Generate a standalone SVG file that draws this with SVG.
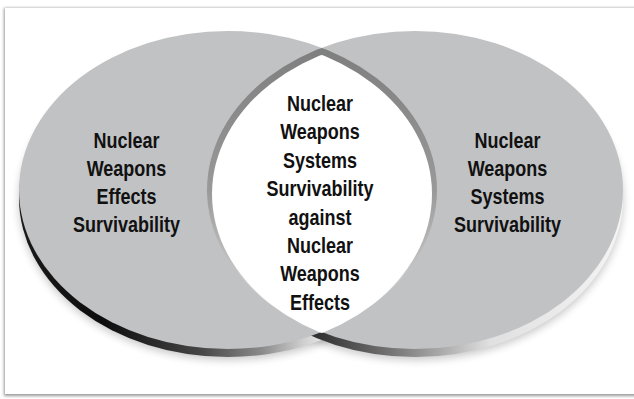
<svg xmlns="http://www.w3.org/2000/svg" width="634" height="399" viewBox="0 0 634 399">
  <defs>
    <style>
      .lbl { font-family: "Liberation Sans", Arial, sans-serif; font-weight: bold; font-size: 22.5px; fill: #111; text-anchor: middle; }
      .face { fill: #c1c2c4; }
    </style>
    <filter id="soft" x="-10%" y="-10%" width="120%" height="130%">
      <feGaussianBlur stdDeviation="4"/>
    </filter>
    <filter id="panelShadow" x="-5%" y="-5%" width="110%" height="110%">
      <feGaussianBlur stdDeviation="1.6"/>
    </filter>
    <linearGradient id="bevL" gradientUnits="userSpaceOnUse" x1="19" y1="0" x2="437" y2="0">
      <stop offset="0" stop-color="#1a1a1a"/>
      <stop offset="0.2" stop-color="#0d0d0d"/>
      <stop offset="0.43" stop-color="#444"/>
      <stop offset="0.58" stop-color="#8a8a8a"/>
      <stop offset="0.68" stop-color="#cfcfcf"/>
      <stop offset="0.73" stop-color="#e6e6e6"/>
      <stop offset="1" stop-color="#eee"/>
    </linearGradient>
    <linearGradient id="bevR" gradientUnits="userSpaceOnUse" x1="207" y1="0" x2="623" y2="0">
      <stop offset="0" stop-color="#222"/>
      <stop offset="0.27" stop-color="#333"/>
      <stop offset="0.45" stop-color="#777"/>
      <stop offset="0.6" stop-color="#bbb"/>
      <stop offset="0.68" stop-color="#e0e0e0"/>
      <stop offset="1" stop-color="#f4f4f4"/>
    </linearGradient>
    <linearGradient id="lensBand" gradientUnits="userSpaceOnUse" x1="0" y1="45" x2="0" y2="335">
      <stop offset="0" stop-color="#7e7e7e"/>
      <stop offset="0.5" stop-color="#999"/>
      <stop offset="0.85" stop-color="#d0d0d0"/>
      <stop offset="1" stop-color="#eee"/>
    </linearGradient>
    <clipPath id="clipL"><ellipse cx="228" cy="190" rx="209" ry="159"/></clipPath>
    <clipPath id="clipR"><ellipse cx="415" cy="190" rx="208" ry="159"/></clipPath>
    <clipPath id="clipL2"><ellipse cx="227" cy="194" rx="205" ry="157"/></clipPath>
    <clipPath id="clipR2"><ellipse cx="416" cy="194" rx="204" ry="157"/></clipPath>
  </defs>

  <!-- page and panel -->
  <rect x="0" y="0" width="634" height="399" fill="#fff"/>
  <rect x="4" y="8" width="640" height="388" fill="#9a9a9a" filter="url(#panelShadow)"/>
  <rect x="5" y="8" width="640" height="386" fill="#fff"/>

  <!-- shadows -->
  <ellipse cx="228" cy="201" rx="209" ry="159" fill="#000" opacity="0.22" filter="url(#soft)"/>
  <ellipse cx="415" cy="201" rx="208" ry="159" fill="#000" opacity="0.22" filter="url(#soft)"/>

  <g id="left-set">
    <ellipse cx="228" cy="198" rx="209" ry="159" fill="url(#bevL)"/>
  </g>
  <g id="right-set">
    <ellipse cx="415" cy="198" rx="208" ry="159" fill="url(#bevR)"/>
  </g>
  <g id="faces">
    <ellipse id="leftFace" class="face" cx="228" cy="190" rx="209" ry="159"/>
    <ellipse id="rightFace" class="face" cx="415" cy="190" rx="208" ry="159"/>
  </g>

  <g id="intersection">
    <g clip-path="url(#clipL)">
      <g clip-path="url(#clipR)">
        <rect x="200" y="30" width="245" height="320" fill="url(#lensBand)"/>
      </g>
    </g>
    <g clip-path="url(#clipL2)">
      <g clip-path="url(#clipR2)">
        <rect x="200" y="30" width="245" height="320" fill="#fff"/>
      </g>
    </g>
  </g>

  <!-- labels -->
  <g id="left-label" transform="translate(126.5 0) scale(0.8 1)">
    <text class="lbl" x="0" y="148">Nuclear</text>
    <text class="lbl" x="0" y="176">Weapons</text>
    <text class="lbl" x="0" y="204">Effects</text>
    <text class="lbl" x="0" y="232">Survivability</text>
  </g>
  <g id="right-label" transform="translate(507.5 0) scale(0.8 1)">
    <text class="lbl" x="0" y="148">Nuclear</text>
    <text class="lbl" x="0" y="176">Weapons</text>
    <text class="lbl" x="0" y="204">Systems</text>
    <text class="lbl" x="0" y="232">Survivability</text>
  </g>
  <g id="center-label" transform="translate(320 0) scale(0.8 1)">
    <text class="lbl" x="0" y="111">Nuclear</text>
    <text class="lbl" x="0" y="139.4">Weapons</text>
    <text class="lbl" x="0" y="167.8">Systems</text>
    <text class="lbl" x="0" y="196.2">Survivability</text>
    <text class="lbl" x="0" y="224.6">against</text>
    <text class="lbl" x="0" y="253">Nuclear</text>
    <text class="lbl" x="0" y="281.4">Weapons</text>
    <text class="lbl" x="0" y="309.8">Effects</text>
  </g>
</svg>
